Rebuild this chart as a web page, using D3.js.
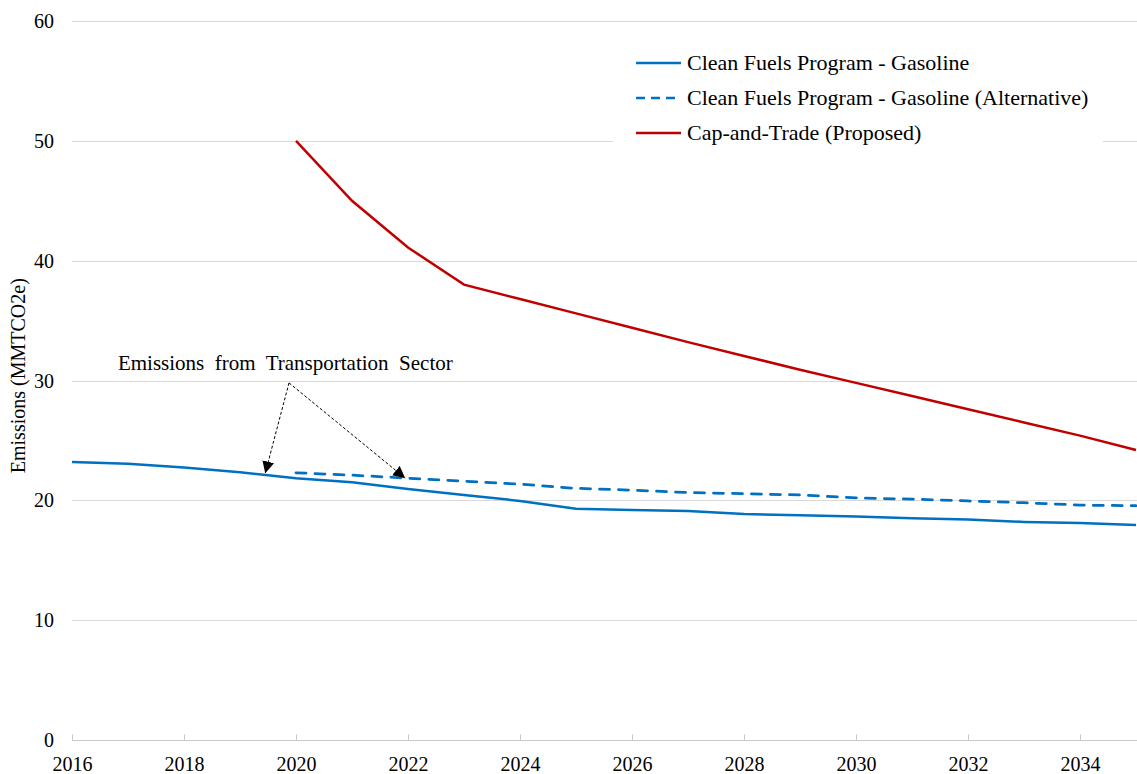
<!DOCTYPE html>
<html>
<head>
<meta charset="utf-8">
<script src="https://cdn.jsdelivr.net/npm/d3@7"></script>
<style>
  body { margin: 0; background: #fff; }
  text { font-family: "Liberation Serif", "Times New Roman", serif; fill: #000; }
</style>
</head>
<body>
<div id="chart"></div>
<script>
// data
var years = [2016, 2017, 2018, 2019, 2020, 2021, 2022, 2023, 2024, 2025,
             2026, 2027, 2028, 2029, 2030, 2031, 2032, 2033, 2034, 2035];
var gasoline = [23.2, 23.05, 22.75, 22.35, 21.85, 21.5, 20.95, 20.45, 19.95, 19.3,
                19.2, 19.1, 18.85, 18.75, 18.65, 18.5, 18.4, 18.2, 18.1, 17.95];
var altYears = [2020, 2021, 2022, 2023, 2024, 2025, 2026, 2027, 2028, 2029,
                2030, 2031, 2032, 2033, 2034, 2035];
var gasolineAlt = [22.3, 22.1, 21.85, 21.6, 21.35, 21.0, 20.85, 20.65, 20.55, 20.45,
                   20.2, 20.1, 19.95, 19.8, 19.6, 19.55];
var capYears = [2020, 2021, 2022, 2023, 2024, 2025, 2026, 2027, 2028, 2029,
                2030, 2031, 2032, 2033, 2034, 2035];
var capTrade = [50, 45, 41.1, 38, 36.8, 35.6, 34.4, 33.2, 32.05, 30.9,
                29.8, 28.7, 27.6, 26.5, 25.4, 24.2];
var xTicks = [2016, 2018, 2020, 2022, 2024, 2026, 2028, 2030, 2032, 2034];
var yTicks = [0, 10, 20, 30, 40, 50, 60];
var legendLabels = ["Clean Fuels Program - Gasoline",
                    "Clean Fuels Program - Gasoline (Alternative)",
                    "Cap-and-Trade (Proposed)"];
var noteText = "Emissions  from  Transportation  Sector";
// annotation anchor (year, value) and arrow tips
var noteApex = [2019.875, 29.8];
var noteTips = [[2019.45, 22.25], [2021.95, 21.85]];

var W = 1137, H = 774;
var margin = { top: 21, right: 1, bottom: 34, left: 72 };

var svg = d3.select('#chart').append('svg')
  .attr('width', W).attr('height', H);

var x = d3.scaleLinear().domain([2016, 2035]).range([margin.left, W - margin.right]);
var y = d3.scaleLinear().domain([0, 60]).range([H - margin.bottom, margin.top]);

// gridlines
svg.append('g')
  .selectAll('line').data(yTicks.filter(function(d){ return d > 0; }))
  .enter().append('line')
  .attr('x1', x(2016)).attr('x2', W)
  .attr('y1', function(d){ return Math.round(y(d)) + 0.5; })
  .attr('y2', function(d){ return Math.round(y(d)) + 0.5; })
  .attr('stroke', '#d9d9d9').attr('stroke-width', 1);

// y labels
svg.append('g')
  .selectAll('text').data(yTicks)
  .enter().append('text')
  .attr('x', 54).attr('y', function(d){ return y(d) + 7; })
  .attr('text-anchor', 'end').attr('font-size', 20)
  .text(function(d){ return d; });

// x axis
var xAxis = d3.axisBottom(x).tickValues(xTicks).tickFormat(d3.format('d'))
  .tickSizeInner(-6).tickSizeOuter(0).tickPadding(0);
var gx = svg.append('g')
  .attr('transform', 'translate(0,' + (Math.round(y(0)) + 0.5) + ')')
  .call(xAxis);
gx.select('.domain').attr('stroke', '#c8c8c8').attr('d', 'M' + x(2016) + ',0H' + W);
gx.selectAll('.tick line').attr('stroke', '#c8c8c8');
gx.selectAll('.tick text')
  .attr('dy', null).attr('y', 30)
  .attr('font-family', '"Liberation Serif", "Times New Roman", serif')
  .attr('font-size', 20).attr('fill', '#000');

// y title
svg.append('text')
  .attr('transform', 'translate(25,' + y(30.4) + ') rotate(-90)')
  .attr('text-anchor', 'middle').attr('font-size', 20)
  .text('Emissions (MMTCO2e)');

// lines
var line = d3.line()
  .x(function(d){ return x(d[0]); })
  .y(function(d){ return y(d[1]); });

svg.append('path')
  .datum(d3.zip(capYears, capTrade))
  .attr('d', line).attr('fill', 'none')
  .attr('stroke', '#c00000').attr('stroke-width', 2.5);

svg.append('path')
  .datum(d3.zip(altYears, gasolineAlt))
  .attr('d', line).attr('fill', 'none')
  .attr('stroke', '#0070c0').attr('stroke-width', 2.75)
  .attr('stroke-dasharray', '10,9').attr('stroke-linecap', 'round');

svg.append('path')
  .datum(d3.zip(years, gasoline))
  .attr('d', line).attr('fill', 'none')
  .attr('stroke', '#0070c0').attr('stroke-width', 2.5);

// annotation
var defs = svg.append('defs');
defs.append('marker')
  .attr('id', 'arrow').attr('viewBox', '0 0 10 10')
  .attr('refX', 10).attr('refY', 5)
  .attr('markerWidth', 12).attr('markerHeight', 12)
  .attr('markerUnits', 'userSpaceOnUse')
  .attr('orient', 'auto')
  .append('path').attr('d', 'M0,0L10,5L0,10z').attr('fill', '#000');

svg.append('g').selectAll('line').data(noteTips)
  .enter().append('line')
  .attr('x1', x(noteApex[0])).attr('y1', y(noteApex[1]))
  .attr('x2', function(d){ return x(d[0]); })
  .attr('y2', function(d){ return y(d[1]); })
  .attr('stroke', '#000').attr('stroke-width', 1)
  .attr('stroke-dasharray', '3,2')
  .attr('marker-end', 'url(#arrow)');

svg.append('text')
  .attr('x', x(2016.82)).attr('y', y(30.85))
  .attr('font-size', 21).style('white-space', 'pre')
  .text(noteText);

// legend
var leg = svg.append('g').attr('transform', 'translate(613,38)');
leg.append('rect').attr('width', 490).attr('height', 115).attr('fill', '#fff');
var styles = [
  { color: '#0070c0', dash: null },
  { color: '#0070c0', dash: '9,6' },
  { color: '#c00000', dash: null }
];
legendLabels.forEach(function(lab, i){
  var gy = 25 + i * 35;
  leg.append('line')
    .attr('x1', 23).attr('x2', 68).attr('y1', gy).attr('y2', gy)
    .attr('stroke', styles[i].color).attr('stroke-width', 2.5)
    .attr('stroke-dasharray', styles[i].dash);
  leg.append('text')
    .attr('x', 74).attr('y', gy + 7).attr('font-size', 22)
    .text(lab);
});
</script>
</body>
</html>
